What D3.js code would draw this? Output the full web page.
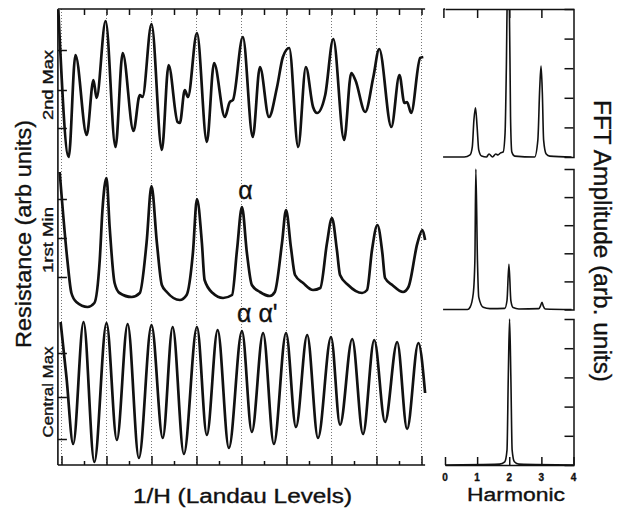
<!DOCTYPE html>
<html>
<head>
<meta charset="utf-8">
<script src="https://cdn.jsdelivr.net/npm/d3@7"></script>
<style>
  body { margin: 0; background: #fff; }
  svg { display: block; background: #fff; }
  text { font-family: "Liberation Sans", Arial, Helvetica, sans-serif; fill: #111; stroke: #111; stroke-width: 0.35; }
</style>
</head>
<body>
<svg id="chart" width="620" height="508"></svg>
<script>
// Resistance traces vs 1/H (x in Landau levels, y in arb units)
const secondMax = [[-0.07,150],[0.16,3],[0.31,105],[0.56,25],[0.71,80],[0.78,62],[0.98,139],[1.20,13],[1.36,107],[1.60,29],[1.74,65],[1.80,63],[2.00,136],[2.23,10],[2.38,95],[2.58,38],[2.63,37],[2.74,70],[2.81,63],[3.01,127],[3.23,18],[3.39,97],[3.63,43],[3.74,58],[3.81,60],[4.03,123],[4.25,23],[4.41,93],[4.61,43],[4.79,73],[4.92,103],[5.06,112],[5.26,13],[5.43,93],[5.59,53],[5.68,47],[5.86,65],[6.04,121],[6.28,20],[6.44,87],[6.53,80],[6.75,48],[6.93,83],[7.06,111],[7.33,33],[7.51,85],[7.62,57],[7.68,58],[7.77,47],[7.97,102],[8.04,103]];
const firstMin = [[-0.04,138],[0.13,50],[0.22,17],[0.33,8],[0.58,3],[0.73,7],[0.85,50],[0.91,100],[1.00,132],[1.07,83],[1.18,27],[1.29,17],[1.56,13],[1.74,17],[1.89,67],[2.00,124],[2.12,67],[2.23,25],[2.34,18],[2.63,10],[2.78,15],[2.92,57],[3.01,111],[3.12,67],[3.18,30],[3.36,17],[3.59,12],[3.79,15],[3.90,60],[4.01,103],[4.12,57],[4.23,25],[4.41,18],[4.63,14],[4.74,18],[4.90,67],[4.99,100],[5.10,62],[5.19,35],[5.37,27],[5.59,20],[5.75,22],[5.90,67],[6.01,92],[6.12,60],[6.19,35],[6.37,25],[6.68,17],[6.79,20],[6.90,60],[7.02,85],[7.13,57],[7.19,32],[7.35,25],[7.59,18],[7.71,23],[7.91,67],[8.02,80],[8.08,70]];
const centralMax = [[-0.02,144],[0.11,89],[0.26,22],[0.49,144],[0.73,4],[1.00,143],[1.23,26],[1.47,142],[1.72,8],[2.00,141],[2.25,28],[2.47,139],[2.72,12],[3.01,139],[3.23,31],[3.47,136],[3.72,18],[4.01,135],[4.23,34],[4.48,133],[4.72,22],[4.99,133],[5.21,39],[5.46,131],[5.70,28],[5.99,129],[6.19,41],[6.46,127],[6.70,32],[6.95,126],[7.19,44],[7.46,124],[7.68,37],[7.93,123],[8.08,73]];

// FFT spectra (x in harmonic number, y in arb units)
const fftSecondMax = [[-0.06,0],[0.60,0],[0.78,0.07],[0.85,0.34],[0.90,1.25],[0.95,1.66],[1.00,1.01],[1.05,0.24],[1.14,0.03],[1.29,0],[1.37,0.10],[1.48,0],[1.58,0.10],[1.65,0.07],[1.73,0.14],[1.81,0.17],[1.87,0.81],[1.91,3.04],[1.94,5.4],[1.97,5.6],[2.00,5.4],[2.04,1.35],[2.08,0.17],[2.17,0.03],[2.79,0],[2.89,0.57],[2.95,2.36],[2.99,3.07],[3.03,2.16],[3.07,0.57],[3.15,0.10],[3.26,0.03],[3.94,0]];
const fftFirstMin = [[-0.06,0],[0.70,0],[0.78,0.08],[0.88,0.57],[0.93,1.75],[0.96,5.0],[1.01,1.75],[1.05,0.44],[1.19,0.08],[1.40,0.03],[1.86,0.04],[1.93,0.32],[1.99,1.61],[2.05,0.32],[2.12,0.07],[2.30,0.02],[2.92,0.03],[2.97,0.12],[3.02,0.26],[3.06,0.12],[3.12,0.02],[3.94,0]];
const fftCentralMax = [[0,0],[1.70,0.03],[1.86,0.11],[1.93,0.51],[1.97,3.02],[2.01,5.0],[2.05,3.02],[2.09,0.51],[2.16,0.11],[2.30,0.03],[4.0,0]];

// labels and ticks
const panelNames = ['2nd Max', '1rst Min', 'Central Max'];
const levelLines = [0, 1, 2, 3, 4, 5, 6, 7, 8];
const halfLevels = [0.5, 1.5, 2.5, 3.5, 4.5, 5.5, 6.5, 7.5];
const leftTicks = [[32, 70, 110], [33, 72, 111], [27, 69, 113]];
const harmonicTicks = [0, 1, 2, 3, 4];
const ampTicks = [1, 2, 3, 4];

const svg = d3.select('#chart');
const ink = '#111';

// ---------- left block: resistance traces ----------
const x = d3.scaleLinear().domain([0, 8]).range([61.5, 421.5]);
const xLo = -0.08, xHi = 8.08;
const yTop = 9, yBot = 465;

const yScales = [
  d3.scaleLinear().domain([0, 150]).range([160, 10]),
  d3.scaleLinear().domain([0, 150]).range([310, 160]),
  d3.scaleLinear().domain([0, 150]).range([466, 316])
];

// dotted level lines
svg.append('g').selectAll('line')
  .data(levelLines)
  .join('line')
  .attr('x1', d => x(d)).attr('x2', d => x(d))
  .attr('y1', yTop).attr('y2', yBot)
  .attr('stroke', '#777')
  .attr('stroke-width', 1)
  .attr('stroke-dasharray', '1,2');

// frame lines (left, top, bottom)
const frame = svg.append('g').attr('stroke', ink).attr('stroke-width', 1.6);
frame.append('line').attr('x1', x(xLo)).attr('x2', x(xLo)).attr('y1', yTop).attr('y2', yBot);
frame.append('line').attr('x1', x(xLo)).attr('x2', x(xHi)).attr('y1', yTop).attr('y2', yTop);
frame.append('line').attr('x1', x(xLo)).attr('x2', x(xHi)).attr('y1', yBot).attr('y2', yBot);

// top ticks (every half level)
svg.append('g')
  .attr('transform', `translate(0,${yTop})`)
  .call(d3.axisBottom(x).tickValues(halfLevels.concat(levelLines.slice(1))).tickSize(6).tickFormat(''))
  .call(g => g.select('.domain').remove());

// bottom ticks: major at levels, minor at half levels
svg.append('g')
  .attr('transform', `translate(0,${yBot})`)
  .call(d3.axisTop(x).tickValues(levelLines).tickSize(9).tickFormat(''))
  .call(g => g.select('.domain').remove());
svg.append('g')
  .attr('transform', `translate(0,${yBot})`)
  .call(d3.axisTop(x).tickValues(halfLevels).tickSize(4).tickFormat(''))
  .call(g => g.select('.domain').remove());

// left ticks for each trace
yScales.forEach((ys, i) => {
  svg.append('g')
    .attr('transform', `translate(${x(xLo)},0)`)
    .call(d3.axisRight(ys).tickValues(leftTicks[i]).tickSize(9).tickFormat(''))
    .call(g => g.select('.domain').remove());
});

svg.selectAll('.tick line').attr('stroke', ink).attr('stroke-width', 1.5);

// traces
const traces = [secondMax, firstMin, centralMax];
traces.forEach((data, i) => {
  const line = d3.line()
    .x(d => x(d[0]))
    .y(d => yScales[i](d[1]))
    .curve(d3.curveMonotoneX);
  svg.append('path')
    .datum(data)
    .attr('d', line)
    .attr('fill', 'none')
    .attr('stroke', ink)
    .attr('stroke-width', 2.7)
    .attr('stroke-linejoin', 'round');
});

// panel names
const nameCentres = [85, 240, 392];
const nameLengths = [70, 66, 91];
panelNames.forEach((name, i) => {
  svg.append('text')
    .attr('transform', `translate(48,${nameCentres[i]}) rotate(-90)`)
    .attr('text-anchor', 'middle')
    .attr('dy', '0.35em')
    .attr('font-size', 15)
    .attr('textLength', nameLengths[i])
    .attr('lengthAdjust', 'spacingAndGlyphs')
    .text(name);
});

// alpha annotations
svg.append('text')
  .attr('x', 245.5).attr('y', 199)
  .attr('text-anchor', 'middle')
  .attr('font-family', '"Liberation Serif", "Times New Roman", serif')
  .attr('font-size', 25)
  .text('α');
svg.append('text')
  .attr('x', 237).attr('y', 322)
  .attr('font-family', '"Liberation Serif", "Times New Roman", serif')
  .attr('font-size', 25)
  .text("α α'");

// axis titles
svg.append('text')
  .attr('transform', 'translate(23,234) rotate(-90)')
  .attr('text-anchor', 'middle')
  .attr('dy', '0.35em')
  .attr('font-size', 22)
  .attr('textLength', 228)
  .attr('lengthAdjust', 'spacingAndGlyphs')
  .text('Resistance  (arb  units)');

svg.append('text')
  .attr('x', 242.5).attr('y', 503)
  .attr('text-anchor', 'middle')
  .attr('font-size', 20)
  .attr('textLength', 219)
  .attr('lengthAdjust', 'spacingAndGlyphs')
  .text('1/H  (Landau  Levels)');

// ---------- right block: FFT spectra ----------
const hx = d3.scaleLinear().domain([0, 4]).range([445, 573.5]);
const fftScales = [
  d3.scaleLinear().domain([0, 5]).range([157, 9]),
  d3.scaleLinear().domain([0, 5]).range([309.5, 169]),
  d3.scaleLinear().domain([0, 5]).range([465, 319])
];
const spectra = [fftSecondMax, fftFirstMin, fftCentralMax];

svg.append('defs').append('clipPath').attr('id', 'fftClip')
  .append('rect').attr('x', 430).attr('y', 9).attr('width', 150).attr('height', 470);

spectra.forEach((data, i) => {
  const ys = fftScales[i];
  const line = d3.line()
    .x(d => hx(d[0]))
    .y(d => ys(d[1]))
    .curve(d3.curveMonotoneX);
  svg.append('path')
    .datum(data)
    .attr('d', line)
    .attr('clip-path', 'url(#fftClip)')
    .attr('fill', 'none')
    .attr('stroke', ink)
    .attr('stroke-width', 1.6)
    .attr('stroke-linejoin', 'round');

  // right axis with inward ticks
  const ax = svg.append('g')
    .attr('transform', `translate(${hx(4)},0)`)
    .call(d3.axisLeft(ys).tickValues(ampTicks).tickSize(9).tickSizeOuter(9).tickFormat(''));
  ax.select('.domain').attr('stroke', ink).attr('stroke-width', 1.5).attr('fill', 'none');
  ax.selectAll('.tick line').attr('stroke', ink).attr('stroke-width', 1.5);
});

// top edge of first spectrum
const topAx = svg.append('g')
  .attr('transform', `translate(0,${fftScales[0](5)})`)
  .call(d3.axisBottom(hx).tickValues([-0.05, 1, 2, 3]).tickSize(9).tickSizeOuter(0).tickFormat(''));
topAx.select('.domain').attr('stroke', ink).attr('stroke-width', 1.5);
topAx.selectAll('.tick line').attr('stroke', ink).attr('stroke-width', 1.5);
svg.append('line')
  .attr('x1', hx(-0.05)).attr('x2', hx(0))
  .attr('y1', fftScales[0](5)).attr('y2', fftScales[0](5))
  .attr('stroke', ink).attr('stroke-width', 1.5);

// harmonic axis under last spectrum
const hAx = svg.append('g')
  .attr('transform', `translate(0,${fftScales[2](0)})`)
  .call(d3.axisTop(hx).tickValues(harmonicTicks).tickSize(8).tickSizeOuter(0).tickFormat(''));
hAx.select('.domain').attr('stroke', ink).attr('stroke-width', 1.5);
hAx.selectAll('.tick line').attr('stroke', ink).attr('stroke-width', 1.5);

svg.append('g').selectAll('text')
  .data(harmonicTicks)
  .join('text')
  .attr('x', d => hx(d))
  .attr('y', 481)
  .attr('text-anchor', 'middle')
  .attr('font-size', 10)
  .attr('font-weight', 'bold')
  .text(d => d);

svg.append('text')
  .attr('x', 516).attr('y', 501)
  .attr('text-anchor', 'middle')
  .attr('font-size', 18)
  .attr('textLength', 98)
  .attr('lengthAdjust', 'spacingAndGlyphs')
  .text('Harmonic');

svg.append('text')
  .attr('transform', 'translate(602,241) rotate(90)')
  .attr('text-anchor', 'middle')
  .attr('dy', '0.35em')
  .attr('font-size', 23)
  .attr('textLength', 282)
  .attr('lengthAdjust', 'spacingAndGlyphs')
  .text('FFT  Amplitude  (arb.  units)');
</script>
</body>
</html>
